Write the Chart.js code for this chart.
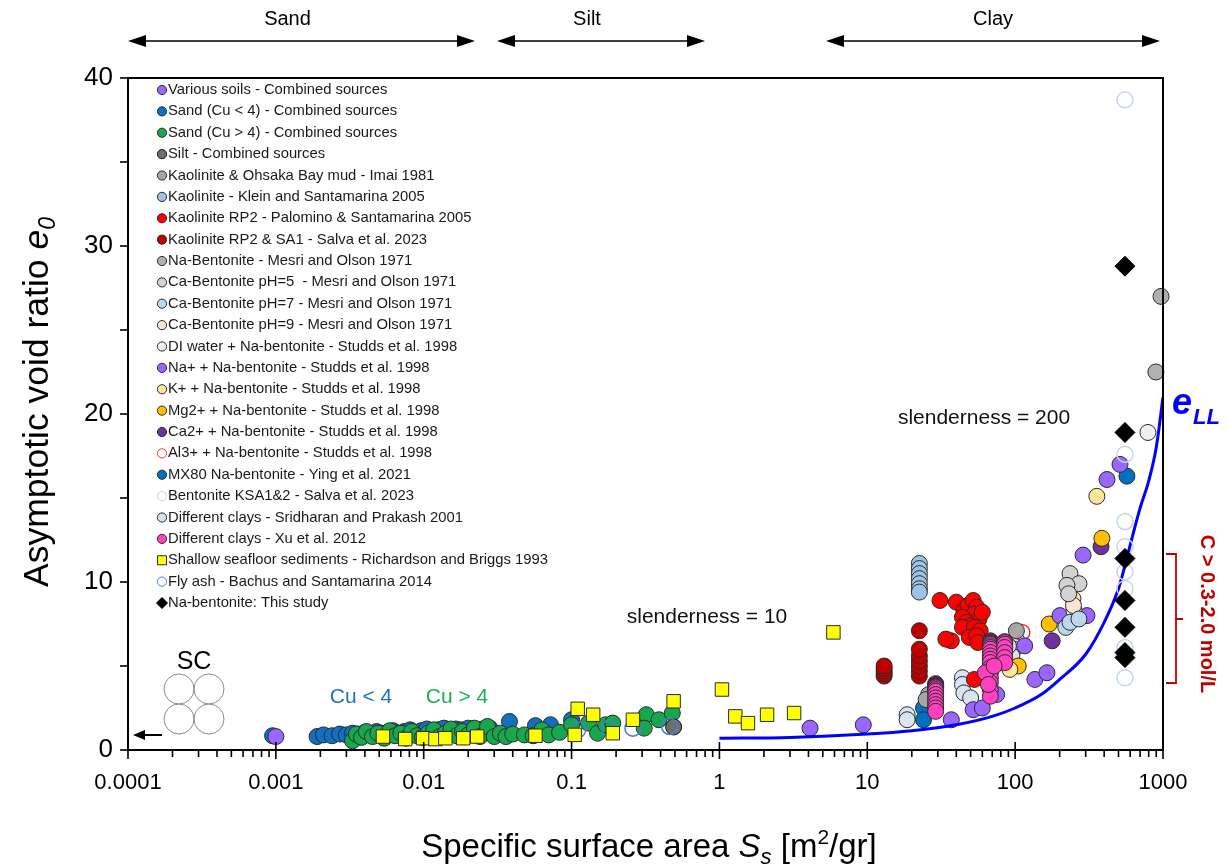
<!DOCTYPE html>
<html lang="en">
<head>
<meta charset="UTF-8">
<title>Asymptotic void ratio vs specific surface area</title>
<script src="https://cdn.jsdelivr.net/npm/chart.js"></script>
<style>
  body { margin: 0; background: #fff; }
  #wrap { width: 1228px; height: 867px; }
</style>
</head>
<body>
<div id="wrap"><canvas id="grafico" width="1228" height="867"></canvas></div>
<script>
// x = specific surface area Ss [m2/gr], y = asymptotic void ratio e0
var xTickValues = [0.0001, 0.001, 0.01, 0.1, 1, 10, 100, 1000];
var xTickLabels = ['0.0001', '0.001', '0.01', '0.1', '1', '10', '100', '1000'];
var yTickValues = [0, 5, 10, 15, 20, 25, 30, 35, 40];
var yTickLabels = ['0', '', '10', '', '20', '', '30', '', '40'];

var variousSoils = [[0.001, 0.8], [4.1, 1.3], [9.4, 1.5], [37, 1.8], [52, 2.4], [60, 2.5], [75, 3.3], [136, 4.2], [164, 4.6]];
var sandCuLess4 = [[0.00095, 0.85], [0.0019, 0.8], [0.0021, 0.9], [0.0024, 0.85], [0.0027, 0.95], [0.003, 0.9], [0.0033, 1.0],
  [0.0036, 0.95], [0.004, 1.05], [0.0044, 1.0], [0.0048, 1.1], [0.0052, 1.0], [0.0057, 1.05], [0.0062, 1.15], [0.0068, 1.0],
  [0.0074, 1.1], [0.0081, 1.2], [0.0088, 1.05], [0.0096, 1.15], [0.0105, 1.25], [0.0115, 1.1], [0.0125, 1.2], [0.0137, 1.3],
  [0.015, 1.15], [0.0165, 1.25], [0.018, 1.2], [0.02, 1.3], [0.022, 1.15], [0.025, 1.25], [0.028, 1.3], [0.038, 1.7],
  [0.057, 1.45], [0.072, 1.5], [0.1, 1.8]];
var sandCuMore4 = [[0.0033, 0.55], [0.0035, 0.95], [0.0038, 0.75], [0.0041, 1.1], [0.0045, 0.8], [0.0049, 1.0], [0.0054, 0.7],
  [0.0059, 1.15], [0.0064, 0.85], [0.007, 1.0], [0.0076, 0.7], [0.0083, 1.1], [0.009, 0.85], [0.0098, 0.75], [0.0107, 1.0],
  [0.0117, 1.2], [0.0128, 0.8], [0.014, 1.0], [0.0153, 1.25], [0.0167, 0.85], [0.0183, 1.1], [0.02, 0.9], [0.022, 1.3],
  [0.024, 0.8], [0.027, 1.4], [0.03, 0.8], [0.033, 1.0], [0.036, 0.8], [0.04, 0.95], [0.048, 0.9], [0.055, 0.85], [0.063, 1.2],
  [0.07, 0.9], [0.083, 1.05], [0.1, 1.5], [0.13, 1.6], [0.15, 1.0], [0.17, 1.5], [0.19, 1.6], [0.3, 1.8], [0.32, 2.1],
  [0.31, 1.3], [0.39, 1.8], [0.48, 2.2]];
var silt = [[0.49, 1.37]];
var kaolOhsaka = [[26, 3.3], [25, 3.0], [102, 7.1]];
var kaolKlein = [[22.5, 11.1], [22.5, 10.8], [22.5, 10.5], [22.5, 10.2], [22.5, 9.9], [22.5, 9.6], [22.5, 9.4]];
var kaolPalomino = [[31, 8.9], [40, 8.8], [45, 8.3], [48, 8.6], [52, 8.9], [55, 8.5], [53, 8.1], [57, 7.8], [44, 7.9], [47, 7.6],
  [50, 7.4], [44, 7.3], [53, 7.3], [58, 7.1], [49, 6.7], [55, 6.8], [37, 6.5], [34, 6.6], [53, 4.2], [56, 6.4], [60, 8.2]];
var kaolSalva = [[13, 4.4], [13, 4.55], [13, 4.7], [13, 4.85], [13, 5.0], [22.5, 4.4], [22.5, 4.7], [22.5, 5.0], [22.5, 5.3],
  [22.5, 5.6], [22.5, 6.0], [22.5, 7.1]];
var naBentMesri = [[970, 27.0], [895, 22.5]];
var caBentPH5 = [[235, 10.5], [270, 9.9], [224, 9.8], [230, 9.3]];
var caBentPH7 = [[220, 7.3], [235, 7.6], [270, 7.8]];
var caBentPH9 = [[250, 8.3], [248, 8.6]];
var diWater = [[791, 18.9]];
var naPlus = [[116, 6.2], [201, 8.0], [306, 8.0], [288, 11.6], [418, 16.1], [512, 17.0]];
var kPlus = [[357, 15.1], [246, 9.0], [92, 4.8]];
var mgPlus = [[386, 12.6], [170, 7.5], [105, 5.0]];
var caPlus = [[381, 12.1], [178, 6.5]];
var alPlus = [[111, 7.0]];
var mx80 = [[570, 16.3], [24, 2.5], [24, 1.8]];
var ksaSalva = [[553, 38.7], [553, 17.6], [553, 13.6], [553, 12.1], [553, 10.6], [553, 9.6], [553, 6.1], [553, 4.3]];
var claysSridharan = [[18.6, 2.1], [18.6, 1.8], [44, 4.3], [44, 3.9], [45, 3.4], [50, 3.1], [103, 6.5], [98, 6.0], [95, 5.6], [90, 6.2]];
var claysXu = [[29, 3.95], [29, 3.9], [29, 3.85], [29, 3.8], [29, 3.75], [29, 3.7], [29, 3.6], [29, 3.5], [29, 3.3], [29, 3.1],
  [29, 2.9], [29, 2.7], [29, 2.5], [29, 2.3],
  [68, 6.5], [68, 6.45], [68, 6.4], [68, 6.35], [68, 6.3], [68, 6.2], [68, 6.1], [68, 6.0], [68, 5.8], [68, 5.6], [68, 5.4],
  [68, 5.2], [68, 4.9], [68, 4.6], [68, 4.3], [68, 4.0], [68, 3.6], [68, 3.2],
  [85, 6.45], [85, 6.4], [85, 6.3], [85, 6.1], [85, 5.8], [85, 5.5], [85, 5.2], [63, 4.6], [66, 3.9], [72, 5.0]];
var seafloor = [[0.0053, 0.8], [0.0075, 0.65], [0.0099, 0.7], [0.012, 0.65], [0.014, 0.7], [0.0185, 0.7], [0.023, 0.8],
  [0.057, 0.85], [0.105, 0.9], [0.11, 2.45], [0.14, 2.1], [0.19, 1.0], [0.26, 1.8], [0.49, 2.9], [1.04, 3.6], [1.28, 2.0],
  [1.56, 1.6], [2.1, 2.1], [3.2, 2.2], [5.9, 7.0]];
var flyAsh = [[0.11, 1.2], [0.18, 1.3], [0.26, 1.3], [0.46, 1.4]];
var thisStudy = [[553, 28.8], [553, 18.9], [553, 11.4], [553, 8.9], [553, 7.3], [553, 5.8], [553, 5.5]];
var eLL = [[1, 0.7], [3, 0.75], [10, 0.95], [20, 1.15], [40, 1.5], [70, 2.0], [100, 2.5], [150, 3.3], [200, 4.2], [300, 5.7],
  [400, 7.6], [500, 9.6], [550, 10.9], [600, 12.2], [700, 14.4], [800, 16.0], [900, 18.0], [1000, 21.0]];

var FAM = "'Liberation Sans', Arial, Helvetica, sans-serif";
var EDGE = '#2b2b2b';

function pts(arr) { return arr.map(function (p) { return { x: p[0], y: p[1] }; }); }

function serie(label, data, fill, opts) {
  var o = opts || {};
  return {
    label: label,
    data: pts(data),
    pointStyle: o.style || 'circle',
    pointRadius: o.r || 8,
    backgroundColor: o.hollow ? 'rgba(0,0,0,0)' : fill,
    borderColor: o.hollow ? fill : (o.edge || EDGE),
    borderWidth: o.hollow ? 1.5 : 1,
    showLine: false,
    order: o.order === undefined ? 5 : o.order,
    clip: false
  };
}

var datasets = [
  serie('Various soils - Combined sources', variousSoils, '#9966ff'),
  serie('Sand (Cu < 4) - Combined sources', sandCuLess4, '#1170c0', { order: 8 }),
  serie('Sand (Cu > 4) - Combined sources', sandCuMore4, '#17a74c', { order: 7 }),
  serie('Silt - Combined sources', silt, '#6f6f6f', { edge: '#111' }),
  serie('Kaolinite & Ohsaka Bay mud - Imai 1981', kaolOhsaka, '#a6a6a6'),
  serie('Kaolinite - Klein and Santamarina 2005', kaolKlein, '#9dc3e6'),
  serie('Kaolinite RP2 - Palomino & Santamarina 2005', kaolPalomino, '#ff0000'),
  serie('Kaolinite RP2 & SA1 - Salva et al. 2023', kaolSalva, '#c00000'),
  serie('Na-Bentonite - Mesri and Olson 1971', naBentMesri, '#b0b0b0'),
  serie('Ca-Bentonite pH=5  - Mesri and Olson 1971', caBentPH5, '#d3d3d3'),
  serie('Ca-Bentonite pH=7 - Mesri and Olson 1971', caBentPH7, '#bdd7ee'),
  serie('Ca-Bentonite pH=9 - Mesri and Olson 1971', caBentPH9, '#fbe5d6'),
  serie('DI water + Na-bentonite - Studds et al. 1998', diWater, '#f0f0f0'),
  serie('Na+ + Na-bentonite - Studds et al. 1998', naPlus, '#9966ff'),
  serie('K+ + Na-bentonite - Studds et al. 1998', kPlus, '#ffe699'),
  serie('Mg2+ + Na-bentonite - Studds et al. 1998', mgPlus, '#ffc000'),
  serie('Ca2+ + Na-bentonite - Studds et al. 1998', caPlus, '#7030a0'),
  serie('Al3+ + Na-bentonite - Studds et al. 1998', alPlus, '#ff3030', { hollow: true }),
  serie('MX80 Na-bentonite - Ying et al. 2021', mx80, '#0070c0'),
  serie('Bentonite KSA1&2 - Salva et al. 2023', ksaSalva, '#c5d5f0', { hollow: true, order: 2 }),
  serie('Different clays - Sridharan and Prakash 2001', claysSridharan, '#dae3f3'),
  serie('Different clays - Xu et al. 2012', claysXu, '#ff40c0', { order: 4 }),
  serie('Shallow seafloor sediments - Richardson and Briggs 1993', seafloor, '#ffff00', { style: 'rect', r: 9.5, order: 1 }),
  serie('Fly ash - Bachus and Santamarina 2014', flyAsh, '#4a7fd4', { hollow: true, order: 1 }),
  serie('Na-bentonite: This study', thisStudy, '#000000', { style: 'rectRot', r: 10, edge: '#000', order: 0 }),
  {
    label: 'eLL', data: pts(eLL), showLine: true, borderColor: '#0000ff', borderWidth: 3,
    pointRadius: 0, cubicInterpolationMode: 'monotone', fill: false, order: 3, legendSkip: true
  }
];

function line(ctx, x1, y1, x2, y2) {
  ctx.beginPath(); ctx.moveTo(x1, y1); ctx.lineTo(x2, y2); ctx.stroke();
}

function arrowHead(ctx, x, y, dir) {
  ctx.beginPath();
  ctx.moveTo(x, y);
  ctx.lineTo(x - dir * 18, y - 6);
  ctx.lineTo(x - dir * 18, y + 6);
  ctx.closePath();
  ctx.fill();
}

function rich(ctx, parts, x, y) {
  // parts: [text, font, dy]; centred on x, baseline y
  var w = 0;
  parts.forEach(function (p) { ctx.font = p[1]; w += ctx.measureText(p[0]).width; });
  var cx = x - w / 2;
  ctx.textAlign = 'left';
  ctx.textBaseline = 'alphabetic';
  parts.forEach(function (p) {
    ctx.font = p[1];
    ctx.fillText(p[0], cx, y + (p[2] || 0));
    cx += ctx.measureText(p[0]).width;
  });
}

function marker(ctx, ds, x, y) {
  ctx.save();
  ctx.fillStyle = ds.backgroundColor;
  ctx.strokeStyle = ds.borderColor;
  ctx.lineWidth = 1;
  ctx.beginPath();
  if (ds.pointStyle === 'rect') {
    ctx.rect(x - 4.5, y - 4.5, 9, 9);
  } else if (ds.pointStyle === 'rectRot') {
    ctx.moveTo(x, y - 5.5); ctx.lineTo(x + 5.5, y); ctx.lineTo(x, y + 5.5); ctx.lineTo(x - 5.5, y); ctx.closePath();
  } else {
    ctx.arc(x, y, 4.6, 0, Math.PI * 2);
  }
  ctx.fill();
  ctx.stroke();
  ctx.restore();
}

var decor = {
  id: 'decor',
  afterDraw: function (chart) {
    var ctx = chart.ctx, a = chart.chartArea, xs = chart.scales.x, ys = chart.scales.y;
    ctx.save();

    // frame
    ctx.strokeStyle = '#000';
    ctx.lineWidth = 2;
    ctx.strokeRect(a.left, a.top, a.right - a.left, a.bottom - a.top);

    // tick marks
    ctx.lineWidth = 1.6;
    yTickValues.forEach(function (v) {
      var p = ys.getPixelForValue(v);
      line(ctx, a.left - 8, p, a.left, p);
    });
    xTickValues.forEach(function (v, i) {
      var p = xs.getPixelForValue(v);
      line(ctx, p, a.bottom - 8, p, a.bottom + 9);
      if (i === xTickValues.length - 1) return;
      for (var m = 2; m < 10; m++) {
        var q = xs.getPixelForValue(v * m);
        line(ctx, q, a.bottom, q, a.bottom + 7);
      }
    });

    // soil class arrows
    ctx.fillStyle = '#000';
    ctx.lineWidth = 1.5;
    [[128, 475, 'Sand'], [497, 705, 'Silt'], [826, 1160, 'Clay']].forEach(function (s) {
      line(ctx, s[0] + 8, 41, s[1] - 8, 41);
      arrowHead(ctx, s[0], 41, -1);
      arrowHead(ctx, s[1], 41, 1);
      ctx.font = '20px ' + FAM;
      ctx.textAlign = 'center';
      ctx.textBaseline = 'middle';
      ctx.fillText(s[2], (s[0] + s[1]) / 2 + (s[2] === 'Clay' ? 0 : -14), 19);
    });

    // SC packing sketch
    ctx.font = '25px ' + FAM;
    ctx.fillText('SC', 194, 662);
    ctx.strokeStyle = '#8a8a8a';
    ctx.lineWidth = 1;
    [[179, 689], [209, 689], [179, 719], [209, 719]].forEach(function (c) {
      ctx.beginPath(); ctx.arc(c[0], c[1], 15, 0, Math.PI * 2); ctx.stroke();
    });
    ctx.strokeStyle = '#000';
    ctx.lineWidth = 2;
    line(ctx, 143, 735, 162, 735);
    ctx.beginPath(); ctx.moveTo(133, 735); ctx.lineTo(145, 730); ctx.lineTo(145, 740); ctx.closePath(); ctx.fill();

    // in-plot labels
    ctx.font = '21px ' + FAM;
    ctx.fillStyle = '#1f73c6';
    ctx.fillText('Cu < 4', 361, 697);
    ctx.fillStyle = '#1fb055';
    ctx.fillText('Cu > 4', 457, 697);
    ctx.fillStyle = '#111';
    ctx.fillText('slenderness = 10', 707, 617);
    ctx.fillText('slenderness = 200', 984, 418);

    // e_LL label
    ctx.fillStyle = '#0000ff';
    ctx.textAlign = 'left';
    ctx.textBaseline = 'alphabetic';
    ctx.font = 'italic bold 36px ' + FAM;
    ctx.fillText('e', 1172, 414);
    ctx.font = 'italic bold 22px ' + FAM;
    ctx.fillText('LL', 1193, 424);

    // concentration bracket
    ctx.strokeStyle = '#c00000';
    ctx.lineWidth = 1.8;
    ctx.beginPath();
    ctx.moveTo(1166, 554); ctx.lineTo(1176, 554); ctx.lineTo(1176, 683); ctx.lineTo(1166, 683);
    ctx.moveTo(1176, 619); ctx.lineTo(1183, 619);
    ctx.stroke();
    ctx.save();
    ctx.translate(1207, 614);
    ctx.rotate(Math.PI / 2);
    ctx.fillStyle = '#c00000';
    ctx.font = 'bold 20px ' + FAM;
    ctx.textAlign = 'center';
    ctx.textBaseline = 'middle';
    ctx.fillText('C > 0.3-2.0 mol/L', 0, 0);
    ctx.restore();

    // legend
    ctx.font = '14.8px ' + FAM;
    ctx.textAlign = 'left';
    ctx.textBaseline = 'middle';
    ctx.fillStyle = '#1a1a1a';
    chart.data.datasets.forEach(function (ds, i) {
      if (ds.legendSkip) return;
      var y = 90 + i * 21.375;
      marker(ctx, ds, 162, y);
      ctx.fillStyle = '#1a1a1a';
      ctx.fillText(ds.label, 168, y);
    });

    // axis titles
    ctx.fillStyle = '#000';
    rich(ctx, [
      ['Specific surface area ', '33px ' + FAM],
      ['S', 'italic 33px ' + FAM],
      ['s', 'italic 22px ' + FAM, 7],
      [' [m', '33px ' + FAM],
      ['2', '21px ' + FAM, -13],
      ['/gr]', '33px ' + FAM]
    ], 649, 857);
    ctx.save();
    ctx.translate(48, 402);
    ctx.rotate(-Math.PI / 2);
    rich(ctx, [
      ['Asymptotic void ratio ', '35.5px ' + FAM],
      ['e', 'italic 35.5px ' + FAM],
      ['0', 'italic 23px ' + FAM, 7]
    ], 0, 0);
    ctx.restore();

    ctx.restore();
  }
};

var contexto = document.getElementById('grafico').getContext('2d');
var grafico = new Chart(contexto, {
  type: 'scatter',
  data: { datasets: datasets },
  options: {
    responsive: false,
    animation: false,
    layout: { padding: { left: 0, top: 78, right: 65, bottom: 0 } },
    plugins: { legend: { display: false }, tooltip: { enabled: false } },
    scales: {
      x: {
        type: 'logarithmic',
        min: 0.0001,
        max: 1000,
        afterFit: function (s) { s.height = 117; },
        afterBuildTicks: function (s) { s.ticks = xTickValues.map(function (v) { return { value: v }; }); },
        ticks: {
          callback: function (v, i) { return xTickLabels[i]; },
          font: { family: FAM, size: 22 },
          color: '#000',
          padding: 20,
          autoSkip: false,
          maxRotation: 0
        },
        grid: { display: false, drawTicks: false },
        border: { display: false }
      },
      y: {
        min: 0,
        max: 40,
        afterFit: function (s) { s.width = 128; },
        afterBuildTicks: function (s) { s.ticks = yTickValues.map(function (v) { return { value: v }; }); },
        ticks: {
          callback: function (v, i) { return yTickLabels[i]; },
          font: { family: FAM, size: 26 },
          color: '#000',
          padding: 15,
          autoSkip: false
        },
        grid: { display: false, drawTicks: false },
        border: { display: false }
      }
    }
  },
  plugins: [decor]
});
</script>
</body>
</html>
